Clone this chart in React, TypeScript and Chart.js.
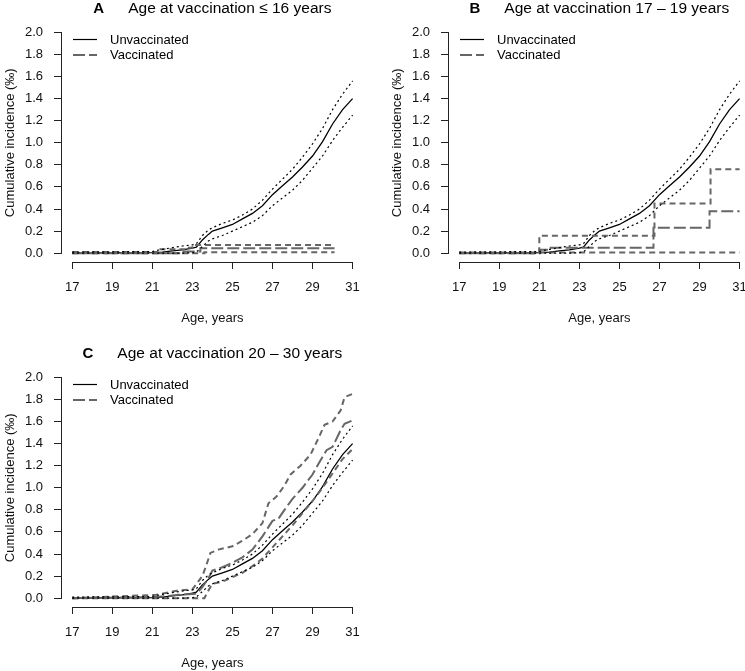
import React, { useEffect, useRef } from "react";
import { Chart, registerables } from "chart.js";

Chart.register(...registerables);

// ---------- data ----------
const xTicks = [17, 19, 21, 23, 25, 27, 29, 31];
const yTicks = [0, 0.2, 0.4, 0.6, 0.8, 1.0, 1.2, 1.4, 1.6, 1.8, 2.0];

const legendLabels = ["Unvaccinated", "Vaccinated"];

// Unvaccinated cumulative incidence (‰), same in all panels
const unvacAge = [17, 21, 21.5, 22, 22.5, 23, 23.2, 23.5, 23.8, 24, 24.5, 25, 25.5, 26, 26.5, 27, 27.5, 28, 28.5, 29, 29.5, 30, 30.5, 31];
const unvacEst = [0, 0.005, 0.01, 0.02, 0.03, 0.045, 0.055, 0.12, 0.17, 0.2, 0.23, 0.26, 0.31, 0.36, 0.43, 0.53, 0.61, 0.69, 0.78, 0.88, 1.01, 1.17, 1.3, 1.4];
const unvacHi = [0.01, 0.015, 0.035, 0.05, 0.065, 0.075, 0.085, 0.16, 0.21, 0.23, 0.27, 0.3, 0.345, 0.4, 0.48, 0.58, 0.67, 0.76, 0.87, 0.99, 1.13, 1.3, 1.44, 1.56];
const unvacLo = [0, 0, 0, 0, 0, 0.005, 0.01, 0.06, 0.11, 0.13, 0.16, 0.2, 0.24, 0.28, 0.34, 0.43, 0.5, 0.57, 0.66, 0.77, 0.88, 1.02, 1.14, 1.25];

// Panel A: vaccinated at age <= 16
const aEstAge = [17, 22.4, 23.4, 30.1];
const aEst = [0, 0.015, 0.045, 0.045];
const aHiAge = [17, 21.3, 22.6, 23.0, 30.1];
const aHi = [0.01, 0.035, 0.05, 0.075, 0.075];
const aLoAge = [17, 23.6, 30.1];
const aLo = [0, 0.009, 0.009];

// Panel B: vaccinated at age 17-19
const bEstAge = [17, 21, 21.5, 26.7, 29.5, 31];
const bEst = [0, 0.03, 0.05, 0.23, 0.38, 0.38];
const bHiAge = [17, 21, 26.75, 29.55, 31];
const bHi = [0, 0.157, 0.45, 0.76, 0.76];
const bLoAge = [17, 31];
const bLo = [0.005, 0.005];

// Panel C: vaccinated at age 20-30
const cHiAge = [17, 21.2, 22.3, 23.0, 23.5, 23.7, 23.9, 24.3, 25.0, 25.5, 26.0, 26.5, 26.8, 27.2, 27.6, 27.9, 28.4, 28.9, 29.3, 29.6, 30.0, 30.4, 30.6, 31.0];
const cHi = [0.0, 0.03, 0.07, 0.08, 0.2, 0.3, 0.41, 0.44, 0.47, 0.52, 0.58, 0.68, 0.86, 0.92, 1.02, 1.12, 1.2, 1.3, 1.45, 1.57, 1.6, 1.7, 1.82, 1.85];
const cEstAge = [17, 21.2, 22.3, 23.2, 23.5, 23.8, 24.0, 24.5, 25.0, 25.5, 26.0, 26.5, 27.0, 27.3, 27.6, 28.0, 28.5, 29.0, 29.4, 29.7, 30.0, 30.4, 30.6, 31.0];
const cEst = [0.0, 0.01, 0.03, 0.04, 0.1, 0.18, 0.25, 0.28, 0.32, 0.37, 0.44, 0.56, 0.7, 0.72, 0.8, 0.9, 1.0, 1.12, 1.25, 1.34, 1.37, 1.52, 1.58, 1.61];
const cLoAge = [17, 23.6, 23.8, 24.0, 24.5, 25.0, 25.5, 26.0, 26.5, 27.0, 27.5, 28.0, 28.5, 29.0, 29.5, 30.0, 30.5, 31.0];
const cLo = [0, 0.0, 0.07, 0.13, 0.15, 0.19, 0.23, 0.29, 0.36, 0.46, 0.56, 0.66, 0.77, 0.88, 1.0, 1.13, 1.26, 1.35];

// ---------- styling ----------
const FONT = "'Liberation Sans', Arial, Helvetica, sans-serif";
const BLACK = "#000000";
const GRAY = "#666666";
const AXIS = "#222222";
const PANEL_W = 387;
const PANEL_H = 346;

type Series = { age: number[]; val: number[] };
type PanelDef = {
  letter: string;
  title: string;
  est: Series;
  hi: Series;
  lo: Series;
  stepped: boolean;
  left: number;
  top: number;
  legend: boolean;
};

const panels: PanelDef[] = [
  {
    letter: "A",
    title: "Age at vaccination \u2264 16 years",
    est: { age: aEstAge, val: aEst },
    hi: { age: aHiAge, val: aHi },
    lo: { age: aLoAge, val: aLo },
    stepped: true,
    left: 0,
    top: 0,
    legend: true,
  },
  {
    letter: "B",
    title: "Age at vaccination 17 \u2013 19 years",
    est: { age: bEstAge, val: bEst },
    hi: { age: bHiAge, val: bHi },
    lo: { age: bLoAge, val: bLo },
    stepped: true,
    left: 387,
    top: 0,
    legend: true,
  },
  {
    letter: "C",
    title: "Age at vaccination 20 \u2013 30 years",
    est: { age: cEstAge, val: cEst },
    hi: { age: cHiAge, val: cHi },
    lo: { age: cLoAge, val: cLo },
    stepped: false,
    left: 0,
    top: 345,
    legend: true,
  },
];

function pts(age: number[], val: number[]) {
  return age.map((x, i) => ({ x, y: val[i] }));
}

function line(label: string, s: Series, color: string, width: number, dash: number[], stepped: boolean | string) {
  return {
    label,
    data: pts(s.age, s.val),
    borderColor: color,
    backgroundColor: color,
    borderWidth: width,
    borderDash: dash,
    pointRadius: 0,
    pointHoverRadius: 0,
    fill: false,
    tension: 0,
    stepped,
  };
}

const align = (v: number) => Math.round(v - 0.5) + 0.5;

function makeDecor(p: PanelDef) {
  return {
    id: "decor",
    afterDraw(chart: any) {
      const { ctx, chartArea } = chart;
      const x = chart.scales.x;
      const y = chart.scales.y;
      ctx.save();
      // R-style axis lines spanning first..last tick
      ctx.strokeStyle = AXIS;
      ctx.lineWidth = 1;
      ctx.setLineDash([]);
      const yb = align(chartArea.bottom);
      ctx.beginPath();
      ctx.moveTo(align(x.getPixelForValue(xTicks[0])) - 0.5, yb);
      ctx.lineTo(align(x.getPixelForValue(xTicks[xTicks.length - 1])) + 0.5, yb);
      ctx.stroke();
      const xl = align(chartArea.left);
      ctx.beginPath();
      ctx.moveTo(xl, align(y.getPixelForValue(yTicks[0])) + 0.5);
      ctx.lineTo(xl, align(y.getPixelForValue(yTicks[yTicks.length - 1])) - 0.5);
      ctx.stroke();

      // title: bold letter + text, centered over plot region
      ctx.fillStyle = BLACK;
      ctx.textAlign = "left";
      ctx.textBaseline = "alphabetic";
      const boldFont = `bold 15px ${FONT}`;
      const normFont = `15.5px ${FONT}`;
      ctx.font = boldFont;
      const wL = ctx.measureText(p.letter).width;
      ctx.font = normFont;
      const wT = ctx.measureText(p.title).width;
      const gap = 24;
      const total = wL + gap + wT;
      const cx = (chartArea.left + chartArea.right) / 2;
      const sx = cx - total / 2;
      ctx.font = boldFont;
      ctx.fillText(p.letter, sx, 12.5);
      ctx.font = normFont;
      ctx.fillText(p.title, sx + wL + gap, 12.5);

      // legend inside the plot region
      if (p.legend) {
        const lx0 = chartArea.left + 12;
        const lx1 = chartArea.left + 36;
        const tx = chartArea.left + 49;
        const rows = [
          { text: legendLabels[0], color: BLACK, width: 1.2, dash: [] as number[], y: 39.5 },
          { text: legendLabels[1], color: GRAY, width: 2, dash: [12, 4], y: 55 },
        ];
        ctx.font = `13px ${FONT}`;
        ctx.textBaseline = "middle";
        rows.forEach((r) => {
          ctx.strokeStyle = r.color;
          ctx.lineWidth = r.width;
          ctx.setLineDash(r.dash);
          ctx.beginPath();
          ctx.moveTo(lx0, r.y);
          ctx.lineTo(lx1, r.y);
          ctx.stroke();
          ctx.setLineDash([]);
          ctx.fillStyle = BLACK;
          ctx.fillText(r.text, tx, r.y + 0.5);
        });
      }
      ctx.restore();
    },
  };
}

function Panel({ p }: { p: PanelDef }) {
  const ref = useRef<HTMLCanvasElement | null>(null);
  useEffect(() => {
    if (!ref.current) return;
    const st = p.stepped ? "before" : false;
    const datasets = [
      line("Unvaccinated upper", { age: unvacAge, val: unvacHi }, BLACK, 1.2, [2, 3], false),
      line("Unvaccinated lower", { age: unvacAge, val: unvacLo }, BLACK, 1.2, [2, 3], false),
      line("Vaccinated upper", p.hi, GRAY, 2, [6, 4], st),
      line("Vaccinated lower", p.lo, GRAY, 2, [6, 4], st),
      line("Vaccinated", p.est, GRAY, 2, [12, 4], st),
      line("Unvaccinated", { age: unvacAge, val: unvacEst }, BLACK, 1.3, [], false),
    ];
    const tickFont = { family: FONT, size: 13 };
    const chart = new Chart(ref.current, {
      type: "line",
      data: { datasets: datasets as any },
      plugins: [makeDecor(p) as any],
      options: {
        responsive: false,
        animation: false,
        devicePixelRatio: 1,
        layout: { padding: { top: 23.5, right: 23.2, bottom: 0, left: 0 } },
        plugins: {
          legend: { display: false },
          tooltip: { enabled: false },
          title: { display: false },
        },
        scales: {
          x: {
            type: "linear",
            min: 16.44,
            max: 31.56,
            afterBuildTicks: (s: any) => {
              s.ticks = xTicks.map((v) => ({ value: v }));
            },
            afterFit: (s: any) => {
              s.height = 84;
            },
            ticks: {
              font: tickFont,
              color: "#111",
              padding: 11,
              maxRotation: 0,
              autoSkip: false,
              callback: (v: any) => String(v),
            },
            grid: { drawOnChartArea: false, drawTicks: true, tickLength: 7, color: AXIS, lineWidth: 1 },
            border: { display: false },
            title: {
              display: true,
              text: "Age, years",
              font: { family: FONT, size: 13 },
              color: "#111",
              padding: { top: 0, bottom: 19.5 },
            },
          },
          y: {
            type: "linear",
            min: -0.08,
            max: 2.08,
            afterBuildTicks: (s: any) => {
              s.ticks = yTicks.map((v) => ({ value: v }));
            },
            afterFit: (s: any) => {
              s.width = 61;
            },
            ticks: {
              font: tickFont,
              color: "#111",
              padding: 11,
              autoSkip: false,
              callback: (v: any) => Number(v).toFixed(1),
            },
            grid: { drawOnChartArea: false, drawTicks: true, tickLength: 7, color: AXIS, lineWidth: 1 },
            border: { display: false },
            title: {
              display: true,
              text: "Cumulative incidence (\u2030)",
              font: { family: FONT, size: 13 },
              color: "#111",
              padding: { top: 3, bottom: 0 },
            },
          },
        },
      } as any,
    });
    return () => chart.destroy();
  }, [p]);
  return (
    <canvas
      ref={ref}
      width={PANEL_W}
      height={PANEL_H}
      style={{ position: "absolute", left: p.left, top: p.top, width: PANEL_W, height: PANEL_H, display: "block" }}
    />
  );
}

export default function App() {
  return (
    <div
      style={{
        position: "absolute",
        left: 0,
        top: 0,
        width: 745,
        height: 671,
        overflow: "hidden",
        background: "#ffffff",
      }}
    >
      {panels.map((p) => (
        <Panel key={p.letter} p={p} />
      ))}
    </div>
  );
}
